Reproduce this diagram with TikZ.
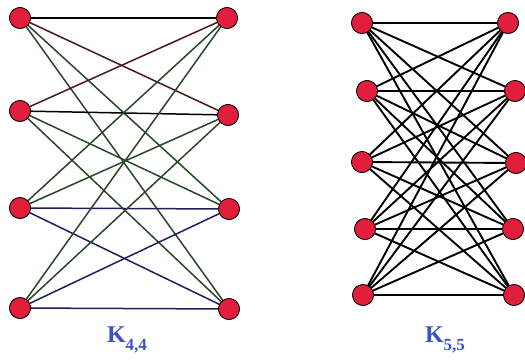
\documentclass[tikz,border=0pt]{standalone}
\usepackage{fontspec}
\setmainfont{Liberation Serif}
\usepackage{tikz}
\definecolor{vred}{RGB}{225,30,60}
\definecolor{lblue}{RGB}{60,80,200}
\definecolor{egreen}{RGB}{40,70,40}
\definecolor{ered}{RGB}{70,25,30}
\definecolor{eblue}{RGB}{30,30,90}
\tikzset{
  vtx/.style={circle,fill=vred,draw=black,line width=0.7pt,minimum size=21pt,inner sep=0pt},
  edg/.style={line width=1.5pt},
  edgb/.style={line width=1.9pt,black},
  lbl/.style={text=lblue,font=\fontsize{24}{24}\selectfont\bfseries}
}
\begin{document}
\begin{tikzpicture}[x=1pt,y=-1pt]
\useasboundingbox (0,0) rectangle (525,362);
% K4,4 vertices
\node[vtx] (a1) at (20,18) {};
\node[vtx] (a2) at (20,111) {};
\node[vtx] (a3) at (20,208) {};
\node[vtx] (a4) at (20,308) {};
\node[vtx] (b1) at (227,18) {};
\node[vtx] (b2) at (228,115) {};
\node[vtx] (b3) at (229,209) {};
\node[vtx] (b4) at (229,309) {};
% K4,4 edges
\draw[edg,black] (a1.center) -- (b1.center);
\draw[edg,ered] (a1.center) -- (b2.center);
\draw[edg,egreen] (a1.center) -- (b3.center);
\draw[edg,egreen] (a1.center) -- (b4.center);
\draw[edg,ered] (a2.center) -- (b1.center);
\draw[edg,black] (a2.center) -- (b2.center);
\draw[edg,egreen] (a2.center) -- (b3.center);
\draw[edg,egreen] (a2.center) -- (b4.center);
\draw[edg,egreen] (a3.center) -- (b1.center);
\draw[edg,egreen] (a3.center) -- (b2.center);
\draw[edg,eblue] (a3.center) -- (b3.center);
\draw[edg,eblue] (a3.center) -- (b4.center);
\draw[edg,egreen] (a4.center) -- (b1.center);
\draw[edg,egreen] (a4.center) -- (b2.center);
\draw[edg,eblue] (a4.center) -- (b3.center);
\draw[edg,eblue] (a4.center) -- (b4.center);
\foreach \n in {a1,a2,a3,a4,b1,b2,b3,b4} {\node[vtx] at (\n) {};}
% K5,5 vertices
\node[vtx] (c1) at (362,23) {};
\node[vtx] (c2) at (367,91) {};
\node[vtx] (c3) at (362,162) {};
\node[vtx] (c4) at (365,229) {};
\node[vtx] (c5) at (363,295) {};
\node[vtx] (d1) at (508,23) {};
\node[vtx] (d2) at (515,91) {};
\node[vtx] (d3) at (516,163) {};
\node[vtx] (d4) at (513,229) {};
\node[vtx] (d5) at (514,295) {};
\foreach \i in {c1,c2,c3,c4,c5} {
  \foreach \j in {d1,d2,d3,d4,d5} {
    \draw[edgb] (\i.center) -- (\j.center);
  }
}
\foreach \n in {c1,c2,c3,c4,c5,d1,d2,d3,d4,d5} {\node[vtx] at (\n) {};}
% labels
\node[lbl] (l1) at (127,340) {K\raisebox{-0.3em}{\fontsize{17}{17}\selectfont 4,4}};
\node[lbl] (l2) at (445,340) {K\raisebox{-0.3em}{\fontsize{17}{17}\selectfont 5,5}};
\end{tikzpicture}
\end{document}
